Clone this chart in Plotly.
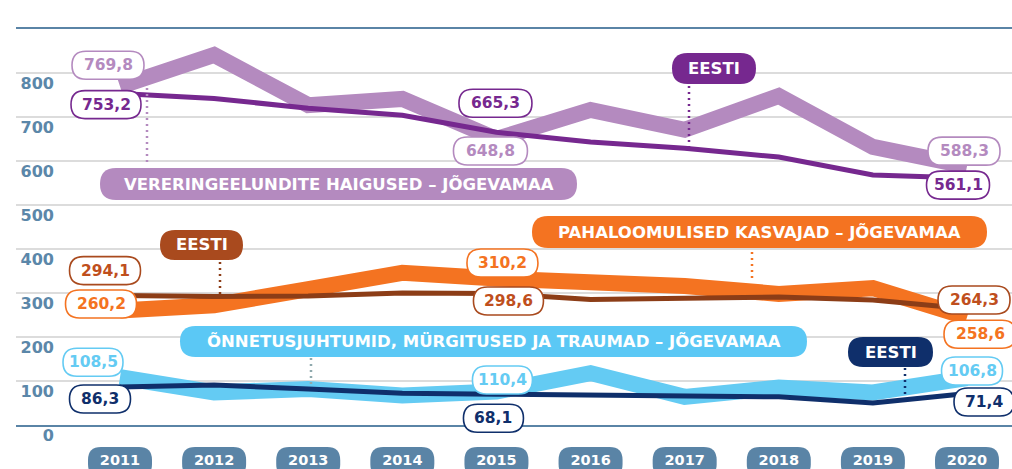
import plotly.graph_objects as go

# andmed (loetud pildilt)
years = [2011, 2012, 2013, 2014, 2015, 2016, 2017, 2018, 2019, 2020]
ver_jog = [769.8, 841, 727, 741, 650, 716, 671, 748, 632, 588.3]
ver_ee = [753.2, 742, 720, 704, 665.3, 643, 629, 609, 568, 561.1]
pah_jog = [260.2, 272, 309, 346, 333, 325, 316, 298, 311, 245]
pah_ee = [294.1, 292, 293, 300, 298.6, 285, 288, 291, 284, 264.3]
onn_jog = [108.5, 74, 82, 67, 76, 118, 64, 85, 74, 106.8]
onn_ee = [86.3, 91, 82, 72, 70, 68, 64, 64, 50, 71.4]
y_ticks = [0, 100, 200, 300, 400, 500, 600, 700, 800]

LPURPLE = "#b48abf"
DPURPLE = "#76288f"
ORANGE = "#f47321"
BROWN = "#8c3d17"
BROWN_PILL = "#a94a1e"
BROWN_TXT = "#bf4f1d"
LBLUE = "#64cbf3"
LBLUE_PILL = "#5bc8f5"
NAVY = "#0f2f6b"
STEEL = "#5a84a6"
FONT = "DejaVu Sans"

# plot area in pixels
L, R, T, B = 16, 1012, 29, 425
YMAX = 900


def px(x):
    return (x - L) / (R - L)


def py(y):
    return (B - y) / (B - T)


def rrect(w, h, r, cx=0, cy=0):
    x0, x1 = cx - w / 2, cx + w / 2
    y0, y1 = cy - h / 2, cy + h / 2
    r = min(r, h / 2, w / 2)
    return (f"M{x0 + r},{y0} L{x1 - r},{y0} Q{x1},{y0} {x1},{y0 + r} "
            f"L{x1},{y1 - r} Q{x1},{y1} {x1 - r},{y1} L{x0 + r},{y1} "
            f"Q{x0},{y1} {x0},{y1 - r} L{x0},{y0 + r} Q{x0},{y0} {x0 + r},{y0} Z")


fig = go.Figure()

# paksud jooned (Jõgevamaa)
for vals, col in [(ver_jog, LPURPLE), (pah_jog, ORANGE), (onn_jog, LBLUE)]:
    fig.add_trace(go.Scatter(x=years, y=vals, mode="lines",
                             line=dict(color=col, width=16),
                             showlegend=False, hoverinfo="skip"))
# õhukesed jooned (Eesti)
for vals, col in [(ver_ee, DPURPLE), (pah_ee, BROWN), (onn_ee, NAVY)]:
    fig.add_trace(go.Scatter(x=years, y=vals, mode="lines",
                             line=dict(color=col, width=5),
                             showlegend=False, hoverinfo="skip"))
# y-telje siltide jaoks
fig.add_trace(go.Scatter(x=[years[0]], y=[0], yaxis="y2", mode="none",
                         showlegend=False, hoverinfo="skip"))

shapes = []
annotations = []

# punktiirjooned
for x, y0, y1, col in [(147, 82, 165, LPURPLE), (689, 86, 148, DPURPLE),
                       (752, 252, 280, ORANGE), (220, 262, 296, BROWN),
                       (311, 358, 385, "#8fa9ad"), (905, 368, 397, NAVY)]:
    shapes.append(dict(type="line", xref="paper", yref="paper",
                       x0=px(x), x1=px(x), y0=py(y0), y1=py(y1),
                       line=dict(color=col, width=2.5, dash="2px,4px"),
                       layer="above"))

# seeriate nimed (pillid)
pills = [
    ("VERERINGEELUNDITE HAIGUSED – JÕGEVAMAA", 338.5, 184, 477, 32, LPURPLE),
    ("EESTI", 714, 68.5, 84, 31, DPURPLE),
    ("PAHALOOMULISED KASVAJAD – JÕGEVAMAA", 759.5, 232, 455, 32, ORANGE),
    ("EESTI", 201.5, 245, 83, 30, BROWN_PILL),
    ("ÕNNETUSJUHTUMID, MÜRGITUSED JA TRAUMAD – JÕGEVAMAA", 493.5, 341.5, 627, 31, LBLUE_PILL),
    ("EESTI", 890.5, 352, 85, 30, NAVY),
]
for text, cx, cy, w, h, col in pills:
    shapes.append(dict(type="path", xref="paper", yref="paper",
                       xsizemode="pixel", ysizemode="pixel",
                       xanchor=px(cx), yanchor=py(cy), path=rrect(w, h, h / 2),
                       fillcolor=col, line=dict(width=0), layer="above"))
    annotations.append(dict(x=px(cx), y=py(cy), xref="paper", yref="paper",
                            xanchor="center", yanchor="middle",
                            text=text, showarrow=False,
                            font=dict(family=FONT, size=16.5, color="white", weight="bold")))

# väärtuste sildid: (aasta indeks, seeria, tekst, värv, dx, dy, laius)
labels = [
    (0, ver_jog, "769,8", LPURPLE, LPURPLE, -12, 21, 72),
    (0, ver_ee, "753,2", DPURPLE, DPURPLE, -14, -11, 70),
    (4, ver_ee, "665,3", DPURPLE, DPURPLE, -1, 29, 73),
    (4, ver_jog, "648,8", LPURPLE, LPURPLE, -6, -12, 74),
    (9, ver_jog, "588,3", LPURPLE, LPURPLE, -3, 15, 72),
    (9, ver_ee, "561,1", DPURPLE, DPURPLE, -9, -7, 63),
    (0, pah_ee, "294,1", BROWN_PILL, BROWN_TXT, -15, 25, 71),
    (0, pah_jog, "260,2", ORANGE, ORANGE, -19, 6.5, 71),
    (4, pah_jog, "310,2", ORANGE, ORANGE, 6, 15.5, 71),
    (4, pah_ee, "298,6", BROWN_PILL, BROWN_TXT, 12, -7.4, 70),
    (9, pah_ee, "264,3", BROWN_PILL, BROWN_TXT, 7, 8.7, 72),
    (9, pah_jog, "258,6", ORANGE, ORANGE, 13, -17, 72),
    (0, onn_jog, "108,5", LBLUE, LBLUE, -27, 15, 60),
    (0, onn_ee, "86,3", NAVY, NAVY, -20, -12, 61),
    (4, onn_jog, "110,4", LBLUE, LBLUE, 6, 11.6, 60),
    (4, onn_ee, "68,1", NAVY, NAVY, -3, -24, 60),
    (9, onn_jog, "106,8", LBLUE, LBLUE, 5, 7, 61),
    (9, onn_ee, "71,4", NAVY, NAVY, 17, -8.4, 60),
]
for i, series, text, bcol, tcol, dx, dy, w in labels:
    shapes.append(dict(type="path", xref="x", yref="paper",
                       xsizemode="pixel", ysizemode="pixel",
                       xanchor=years[i], yanchor=series[i] / YMAX,
                       path=rrect(w, 28, 14, dx, dy),
                       fillcolor="white", line=dict(color=bcol, width=1.6),
                       layer="above"))
    annotations.append(dict(x=years[i], y=series[i], xref="x", yref="y",
                            xanchor="center", yanchor="middle",
                            xshift=dx, yshift=dy, text=text, showarrow=False,
                            font=dict(family=FONT, size=15.5, color=tcol, weight="bold")))

# aastate pillid
for yr in years:
    shapes.append(dict(type="path", xref="x", yref="paper",
                       xsizemode="pixel", ysizemode="pixel",
                       xanchor=yr, yanchor=0, path=rrect(64, 30, 13, 0, -37),
                       fillcolor=STEEL, line=dict(width=0), layer="below"))

fig.update_layout(
    width=1012, height=469,
    margin=dict(l=L, r=1012 - R, t=T, b=469 - B, autoexpand=False),
    paper_bgcolor="white", plot_bgcolor="white",
    showlegend=False,
    shapes=shapes, annotations=annotations,
    xaxis=dict(range=[2009.895, 2020.478], tickvals=years,
               ticktext=[str(y) for y in years], ticks="", automargin=False,
               showgrid=False, zeroline=False, showline=True, mirror=True,
               linecolor=STEEL, linewidth=1.5, ticklabelstandoff=21,
               tickfont=dict(family=FONT, size=14.5, color="white", weight="bold")),
    yaxis=dict(range=[0, YMAX], tickvals=y_ticks[1:], showticklabels=False,
               automargin=False,
               showgrid=True, gridcolor="#dcdcdc", gridwidth=1.5, zeroline=False),
    yaxis2=dict(range=[0, YMAX], overlaying="y", anchor="free",
                position=px(54), side="left", tickvals=y_ticks, ticks="",
                automargin=False,
                showgrid=False, zeroline=False, showline=False,
                ticklabelshift=10,
                tickfont=dict(family=FONT, size=16, color="#5b87a9", weight="bold")),
)

fig.write_html("out.html", config={"displayModeBar": False},
               post_script="document.body.style.margin='0';")
